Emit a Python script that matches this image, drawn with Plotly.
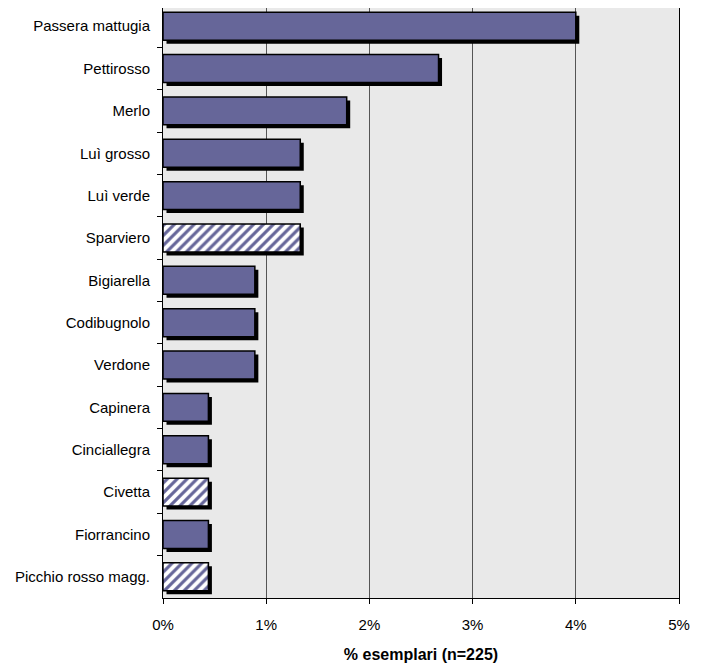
import plotly.graph_objects as go

species = ["Passera mattugia", "Pettirosso", "Merlo", "Luì grosso", "Luì verde",
           "Sparviero", "Bigiarella", "Codibugnolo", "Verdone", "Capinera",
           "Cinciallegra", "Civetta", "Fiorrancino", "Picchio rosso magg."]
share = [0.0400, 0.0267, 0.0178, 0.0133, 0.0133, 0.0133, 0.0089, 0.0089, 0.0089,
         0.0044, 0.0044, 0.0044, 0.0044, 0.0044]
hatched = [False, False, False, False, False, True, False, False, False,
           False, False, True, False, True]
x_ticks = [0, 0.01, 0.02, 0.03, 0.04, 0.05]
x_title = "% esemplari (n=225)"

BAR = "#666699"
# page body has an 8px margin; figure is sized to fill the rest of the window
W = 696
H = 661
L, R, T, B = 155, 25, 0, 71
pw = W - L - R
ph = H - T - B
n = len(species)
cat_px = 42.36
top_cut = 3.0 / cat_px                # plot starts 3px below the first boundary

bar_w = 0.66
dy = 3.5 / cat_px                     # shadow offset in category units
dx = 3.5 * 0.05 / pw                  # shadow offset in data units

solid_y = [s for s, h in zip(species, hatched) if not h]
solid_x = [v for v, h in zip(share, hatched) if not h]
hatch_y = [s for s, h in zip(species, hatched) if h]
hatch_x = [v for v, h in zip(share, hatched) if h]

fig = go.Figure()
# shadow
fig.add_trace(go.Bar(
    y=species, x=share, base=dx, orientation="h",
    width=bar_w, offset=-bar_w / 2 + dy,
    marker=dict(color="black", line=dict(width=0)),
    hoverinfo="skip", showlegend=False,
))
# solid bars
fig.add_trace(go.Bar(
    y=solid_y, x=solid_x, orientation="h",
    width=bar_w, offset=-bar_w / 2,
    marker=dict(color=BAR, line=dict(color="black", width=1.5)),
    showlegend=False,
))
# hatched bars
fig.add_trace(go.Bar(
    y=hatch_y, x=hatch_x, orientation="h",
    width=bar_w, offset=-bar_w / 2,
    marker=dict(
        color="white",
        line=dict(color="black", width=1.5),
        pattern=dict(shape="/", fillmode="overlay", fgcolor=BAR, bgcolor="white",
                     fgopacity=1, size=7, solidity=0.45),
    ),
    showlegend=False,
))

# outer frame line on the right
x1p = (692 - L) / pw
fig.add_shape(type="line", xref="paper", yref="paper", x0=x1p, x1=x1p,
              y0=-B / ph, y1=1, line=dict(color="#404040", width=1))

fig.update_layout(
    width=W, height=H,
    margin=dict(l=L, r=R, t=T, b=B),
    barmode="overlay",
    paper_bgcolor="white",
    plot_bgcolor="#e9e9e9",
    font=dict(family="Liberation Sans, Arial, sans-serif", size=15, color="black"),
    xaxis=dict(
        range=[0, 0.05], tickvals=x_ticks, tickformat=".0%",
        showgrid=True, gridcolor="#555555", gridwidth=1,
        showline=True, linecolor="black", linewidth=1,
        ticks="outside", ticklen=5, tickcolor="black",
        ticklabelstandoff=8,
        zeroline=False,
        title=dict(text="<b>" + x_title + "</b>", font=dict(size=16), standoff=16),
    ),
    yaxis=dict(
        type="category", categoryorder="array", categoryarray=species,
        range=[n - 0.5, -0.5 + top_cut],
        showline=True, linecolor="black", linewidth=1, mirror=True,
        ticks="outside", ticklen=5, tickcolor="black", tickson="boundaries",
        ticklabelstandoff=9,
        showgrid=False,
    ),
)

fig.write_html("out.html")
